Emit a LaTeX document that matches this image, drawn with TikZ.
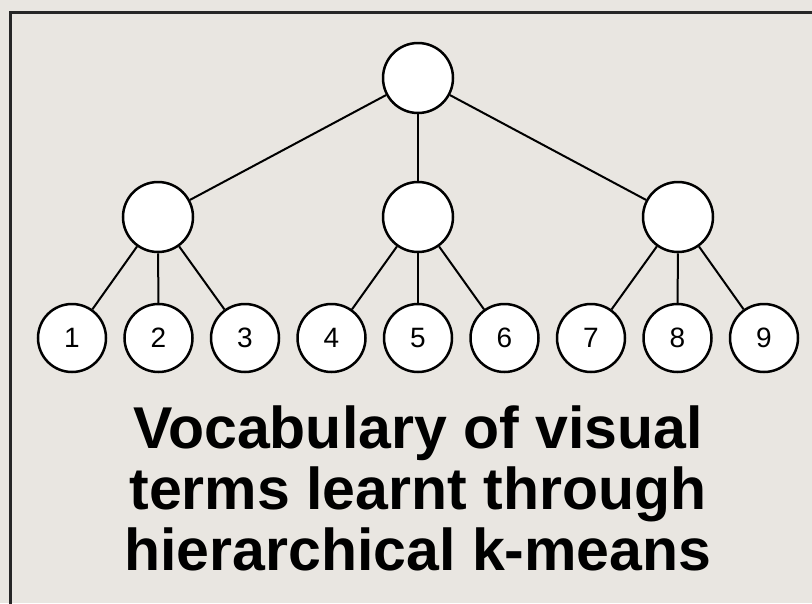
\documentclass[tikz,border=0pt]{standalone}
\usepackage{fontspec}
\setmainfont{Liberation Sans}
\definecolor{paper}{RGB}{233,230,225}
\tikzset{%
	cluster/.style={
		circle,
		draw,
		fill=white,
		line width=2.5pt,
		minimum size=70pt,
		inner sep=0pt
	},
	word/.style={
		cluster,
		minimum size=68pt,
		font=\fontsize{28}{30}\selectfont
	},
	branch/.style={ line width=2pt },
	caption/.style={ align=center, font=\bfseries\fontsize{59}{61}\selectfont },
}

\begin{document}
\begin{tikzpicture}[x=1pt, y=-1pt]
% paper and frame
\fill[paper] (0,0) rectangle (812,603);
\clip (0,0) rectangle (812,603);
\draw[line width=3pt, black!85] (10,12) rectangle (830,625);

% clusters
\node[cluster] (root) at (418,78) {};
\foreach \x [count=\i] in {158,418,678}
	\node[cluster] (cluster-\i) at (\x,217) {};

% visual words
\foreach \i in {1,...,9}
	\node[word] (word-\i) at (72+86.5*\i-86.5,338) {\i};

% branches
\foreach \i in {1,2,3}
	\draw[branch] (root) -- (cluster-\i);
\foreach \i [evaluate=\i as \c using {int((\i+2)/3)}] in {1,...,9}
	\draw[branch] (cluster-\c) -- (word-\i);

% caption
\node[caption] (title) at (418,488) {Vocabulary of visual\\terms learnt through\\hierarchical k-means};

\end{tikzpicture}
\end{document}
